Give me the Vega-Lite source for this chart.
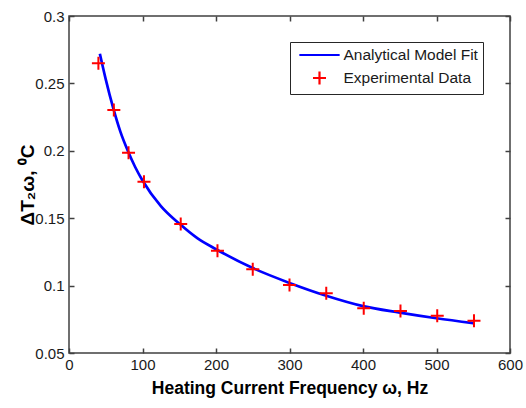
{
  "$schema": "https://vega.github.io/schema/vega-lite/v6.json",
  "width": 441,
  "height": 337,
  "autosize": {"type": "none"},
  "padding": {"left": 69, "top": 16, "right": 16, "bottom": 55},
  "background": "white",
  "config": {
    "view": {"stroke": "#404040", "strokeWidth": 1.5},
    "font": "Liberation Sans",
    "axis": {
      "grid": false,
      "domain": false,
      "tickColor": "#404040",
      "tickSize": -5,
      "tickWidth": 1.5,
      "labelFont": "Liberation Sans",
      "labelFontSize": 15,
      "labelColor": "#1a1a1a",
      "titleFont": "Liberation Sans",
      "titleColor": "black",
      "titleFontWeight": "bold"
    }
  },
  "datasets": {
    "fit": [
      {"freq": 42, "dT": 0.272, "series": "Analytical Model Fit"},
      {"freq": 50, "dT": 0.253, "series": "Analytical Model Fit"},
      {"freq": 60, "dT": 0.232, "series": "Analytical Model Fit"},
      {"freq": 70, "dT": 0.214, "series": "Analytical Model Fit"},
      {"freq": 80, "dT": 0.2, "series": "Analytical Model Fit"},
      {"freq": 90, "dT": 0.188, "series": "Analytical Model Fit"},
      {"freq": 100, "dT": 0.178, "series": "Analytical Model Fit"},
      {"freq": 125, "dT": 0.159, "series": "Analytical Model Fit"},
      {"freq": 150, "dT": 0.146, "series": "Analytical Model Fit"},
      {"freq": 175, "dT": 0.135, "series": "Analytical Model Fit"},
      {"freq": 200, "dT": 0.127, "series": "Analytical Model Fit"},
      {"freq": 250, "dT": 0.113, "series": "Analytical Model Fit"},
      {"freq": 300, "dT": 0.102, "series": "Analytical Model Fit"},
      {"freq": 350, "dT": 0.0925, "series": "Analytical Model Fit"},
      {"freq": 400, "dT": 0.0848, "series": "Analytical Model Fit"},
      {"freq": 450, "dT": 0.08, "series": "Analytical Model Fit"},
      {"freq": 500, "dT": 0.0758, "series": "Analytical Model Fit"},
      {"freq": 550, "dT": 0.0722, "series": "Analytical Model Fit"}
    ],
    "exp": [
      {"freq": 40, "dT": 0.2649, "series": "Experimental Data"},
      {"freq": 61, "dT": 0.2303, "series": "Experimental Data"},
      {"freq": 81, "dT": 0.1986, "series": "Experimental Data"},
      {"freq": 102, "dT": 0.1771, "series": "Experimental Data"},
      {"freq": 152, "dT": 0.1457, "series": "Experimental Data"},
      {"freq": 202, "dT": 0.1259, "series": "Experimental Data"},
      {"freq": 250, "dT": 0.1121, "series": "Experimental Data"},
      {"freq": 300, "dT": 0.1004, "series": "Experimental Data"},
      {"freq": 350, "dT": 0.0943, "series": "Experimental Data"},
      {"freq": 401, "dT": 0.0832, "series": "Experimental Data"},
      {"freq": 451, "dT": 0.0812, "series": "Experimental Data"},
      {"freq": 501, "dT": 0.0777, "series": "Experimental Data"},
      {"freq": 551, "dT": 0.074, "series": "Experimental Data"}
    ]
  },
  "resolve": {"axis": {"x": "independent", "y": "independent"}},
  "layer": [
    {
      "data": {"name": "fit"},
      "mark": {"type": "line", "strokeWidth": 2.7, "interpolate": "monotone"},
      "encoding": {
        "x": {
          "field": "freq", "type": "quantitative",
          "scale": {"domain": [0, 600], "nice": false, "zero": false},
          "axis": {"orient": "bottom", "values": [0, 100, 200, 300, 400, 500, 600], "title": "Heating Current Frequency ω, Hz", "titleFontSize": 17.5, "labelPadding": 9, "titlePadding": 7, "labelFlush": false}
        },
        "y": {
          "field": "dT", "type": "quantitative",
          "scale": {"domain": [0.05, 0.3], "nice": false, "zero": false},
          "axis": {"orient": "left", "values": [0.05, 0.1, 0.15, 0.2, 0.25, 0.3], "format": "~g", "title": "ΔT₂ω, ⁰C", "titleFontSize": 19, "labelPadding": 10, "titlePadding": -3, "labelFlush": false}
        },
        "color": {
          "field": "series", "type": "nominal",
          "scale": {"domain": ["Analytical Model Fit", "Experimental Data"], "range": ["#0000ff", "#ff0000"]},
          "legend": {
            "orient": "none", "legendX": 221, "legendY": 26,
            "title": null,
            "strokeColor": "#262626", "fillColor": "white",
            "padding": 5,
            "rowPadding": 3,
            "symbolSize": 169,
            "symbolStrokeWidth": 2,
            "symbolOffset": 16.5,
            "labelOffset": 16,
            "labelFont": "Liberation Sans",
            "labelFontSize": 15.5,
            "labelColor": "#1a1a1a",
            "encode": {
              "symbols": {
                "update": {
                  "shape": {"signal": "datum.value === 'Analytical Model Fit' ? 'M-3.1,0H3.1' : 'M-1,0H1M0,-1V1'"},
                  "strokeWidth": {"value": 2.2},
                  "fill": {"value": "transparent"}
                }
              }
            }
          }
        }
      }
    },
    {
      "data": {"name": "exp"},
      "mark": {"type": "point", "shape": "M-1,0H1M0,-1V1", "size": 169, "filled": false, "strokeWidth": 2, "opacity": 1},
      "encoding": {
        "x": {
          "field": "freq", "type": "quantitative",
          "axis": {"orient": "top", "values": [0, 100, 200, 300, 400, 500, 600], "labels": false, "title": null}
        },
        "y": {
          "field": "dT", "type": "quantitative",
          "axis": {"orient": "right", "values": [0.05, 0.1, 0.15, 0.2, 0.25, 0.3], "labels": false, "title": null}
        },
        "color": {"field": "series", "type": "nominal"}
      }
    }
  ]
}
